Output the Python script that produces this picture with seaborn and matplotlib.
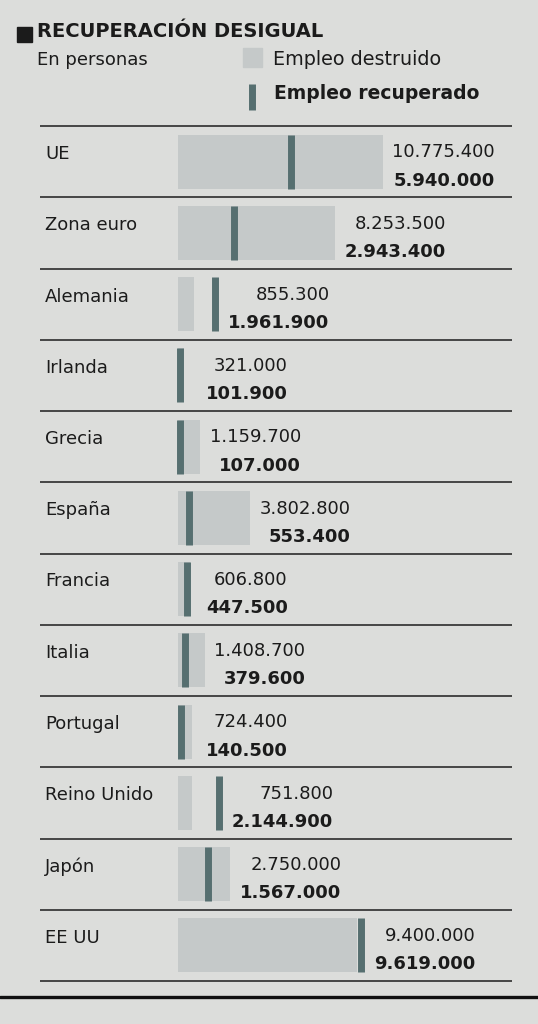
import numpy as np
import pandas as pd
import seaborn as sns
import matplotlib.pyplot as plt
from matplotlib.patches import Rectangle
from matplotlib.lines import Line2D
from matplotlib.offsetbox import TextArea, VPacker, AnnotationBbox

# datos: personas, empleo destruido / recuperado
paises = ["UE", "Zona euro", "Alemania", "Irlanda", "Grecia", "España",
          "Francia", "Italia", "Portugal", "Reino Unido", "Japón", "EE UU"]
destruido = [10775400, 8253500, 855300, 321000, 1159700, 3802800,
             606800, 1408700, 724400, 751800, 2750000, 9400000]
recuperado = [5940000, 2943400, 1961900, 101900, 107000, 553400,
              447500, 379600, 140500, 2144900, 1567000, 9619000]

PAPER = "#dcdddb"
GRIS = "#c5c9c9"
OSCURO = "#566f70"
TINTA = "#1b1b1b"

W, H = 538, 1024
PX_M = 19.0          # pixeles por millon
X0 = 178             # pixel donde empieza la barra
ROW_TOP, ROW_BOT = 126, 981
FS = 13


def miles(v):
    return f"{v:,}".replace(",", ".")


df = pd.DataFrame({"pais": paises, "destruido": destruido, "recuperado": recuperado})
n = len(df)

sns.set_theme(style="white")
plt.rcParams["font.family"] = ["DejaVu Sans"]
plt.rcParams["text.color"] = TINTA

fig = plt.figure(figsize=(W / 100, H / 100), dpi=100, facecolor=PAPER)
ax = fig.add_axes([0, 0, 1, 1])
ax.set_facecolor(PAPER)

sns.barplot(data=df, x="destruido", y="pais", orient="h", color=GRIS,
            saturation=1, width=0.76, edgecolor="none", linewidth=0, ax=ax)
y = np.arange(n)
ax.vlines(df["recuperado"], y - 0.38, y + 0.38, color=OSCURO, lw=5,
          capstyle="butt")

# escalas en pixeles
pitch = (ROW_BOT - ROW_TOP) / n
ax.set_xlim(-X0 / PX_M * 1e6, (W - X0) / PX_M * 1e6)
ax.set_ylim((H - ROW_TOP) / pitch - 0.5, -0.5 - ROW_TOP / pitch)
ax.set_axis_off()

trans = ax.get_yaxis_transform()
ax.hlines(np.arange(n + 1) - 0.5, 40 / W, 512 / W, transform=trans,
          color="#3a3a3a", lw=1.3)

for i, row in df.iterrows():
    ax.text(45 / W, i - 0.5 + 33 / pitch, row["pais"], transform=trans,
            fontsize=FS, va="baseline", ha="left")
    caja = VPacker(children=[
        TextArea(miles(row["destruido"]), textprops=dict(fontsize=FS, color=TINTA)),
        TextArea(miles(row["recuperado"]), textprops=dict(fontsize=FS, color=TINTA,
                                                          fontweight="bold")),
    ], align="right", pad=0, sep=7.5)
    ancla = max(row["destruido"], row["recuperado"] + 180000, 950000)
    ab = AnnotationBbox(caja, (ancla, i), xybox=(7, -3.5), boxcoords="offset points",
                        box_alignment=(0, 0.5), frameon=False, pad=0)
    ax.add_artist(ab)

# cabecera
fig.patches.append(Rectangle((17 / W, 1 - 42 / H), 15 / W, 15 / H,
                             transform=fig.transFigure, color=TINTA))
fig.text(37 / W, 1 - 37 / H, "RECUPERACIÓN DESIGUAL", fontsize=14,
         fontweight="bold", va="baseline")
fig.text(37 / W, 1 - 65 / H, "En personas", fontsize=FS, va="baseline")

# leyenda
fig.patches.append(Rectangle((243 / W, 1 - 67 / H), 19 / W, 19 / H,
                             transform=fig.transFigure, color=GRIS))
fig.add_artist(Line2D([251.5 / W, 251.5 / W], [1 - 110 / H, 1 - 84 / H],
                      transform=fig.transFigure, color=OSCURO, lw=5,
                      solid_capstyle="butt"))
fig.text(273 / W, 1 - 65 / H, "Empleo destruido", fontsize=13.8, va="baseline")
fig.text(274 / W, 1 - 99 / H, "Empleo recuperado", fontsize=13.5,
         fontweight="bold", va="baseline")

fig.add_artist(Line2D([0, 1], [1 - 997 / H, 1 - 997 / H], transform=fig.transFigure,
                      color="#111111", lw=2.4))

fig.savefig("out.png", dpi=100, facecolor=PAPER)
